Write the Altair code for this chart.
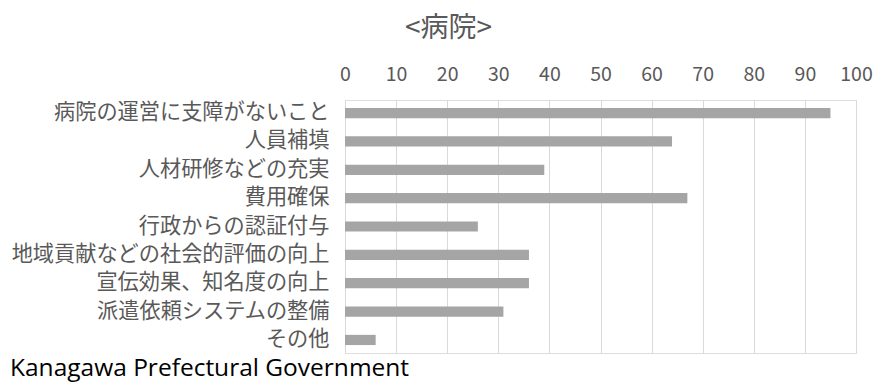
import altair as alt
import pandas as pd

categories = [
    "病院の運営に支障がないこと",
    "人員補填",
    "人材研修などの充実",
    "費用確保",
    "行政からの認証付与",
    "地域貢献などの社会的評価の向上",
    "宣伝効果、知名度の向上",
    "派遣依頼システムの整備",
    "その他",
]
values = [95, 64, 39, 67, 26, 36, 36, 31, 6]
x_ticks = [0, 10, 20, 30, 40, 50, 60, 70, 80, 90, 100]
title_text = "<病院>"
footer_text = "Kanagawa Prefectural Government"

df = pd.DataFrame({"cat": categories, "val": values})
W, H = 511, 253
FONT = "Noto Sans CJK JP"

bars = alt.Chart(df).mark_bar(color="#a5a5a5").encode(
    x=alt.X("val:Q",
            scale=alt.Scale(domain=[0, 100], nice=False),
            axis=alt.Axis(orient="top", values=x_ticks, title=None, domain=False,
                          ticks=False, grid=True, gridColor="#d9d9d9",
                          labelFont=FONT, labelFontSize=19.5, labelColor="#595959",
                          labelPadding=16, labelFlush=False)),
    y=alt.Y("cat:N", sort=categories,
            scale=alt.Scale(paddingInner=0.64, paddingOuter=0.28),
            axis=alt.Axis(title=None, domain=False, ticks=False,
                          labelFont=FONT, labelFontSize=21.2, labelColor="#595959",
                          labelPadding=16, labelLimit=500)),
)

footer = alt.Chart(pd.DataFrame({"t": [footer_text]})).mark_text(
    align="left", baseline="alphabetic", font="Open Sans", fontSize=24.5, color="#000000"
).encode(text="t:N", x=alt.value(-335), y=alt.value(H + 23))

chart = alt.layer(bars, footer).properties(
    width=W, height=H,
    title=alt.TitleParams(title_text, font=FONT, fontSize=28, color="#595959",
                          fontWeight="normal", anchor="middle", frame="group",
                          dx=-152, offset=21),
    autosize=alt.AutoSizeParams(type="none"),
    padding={"left": 345, "top": 100, "right": 18, "bottom": 29},
).configure_view(stroke=None).configure(background="white")

chart.save("out.html", embed_options={"renderer": "svg", "actions": False})
